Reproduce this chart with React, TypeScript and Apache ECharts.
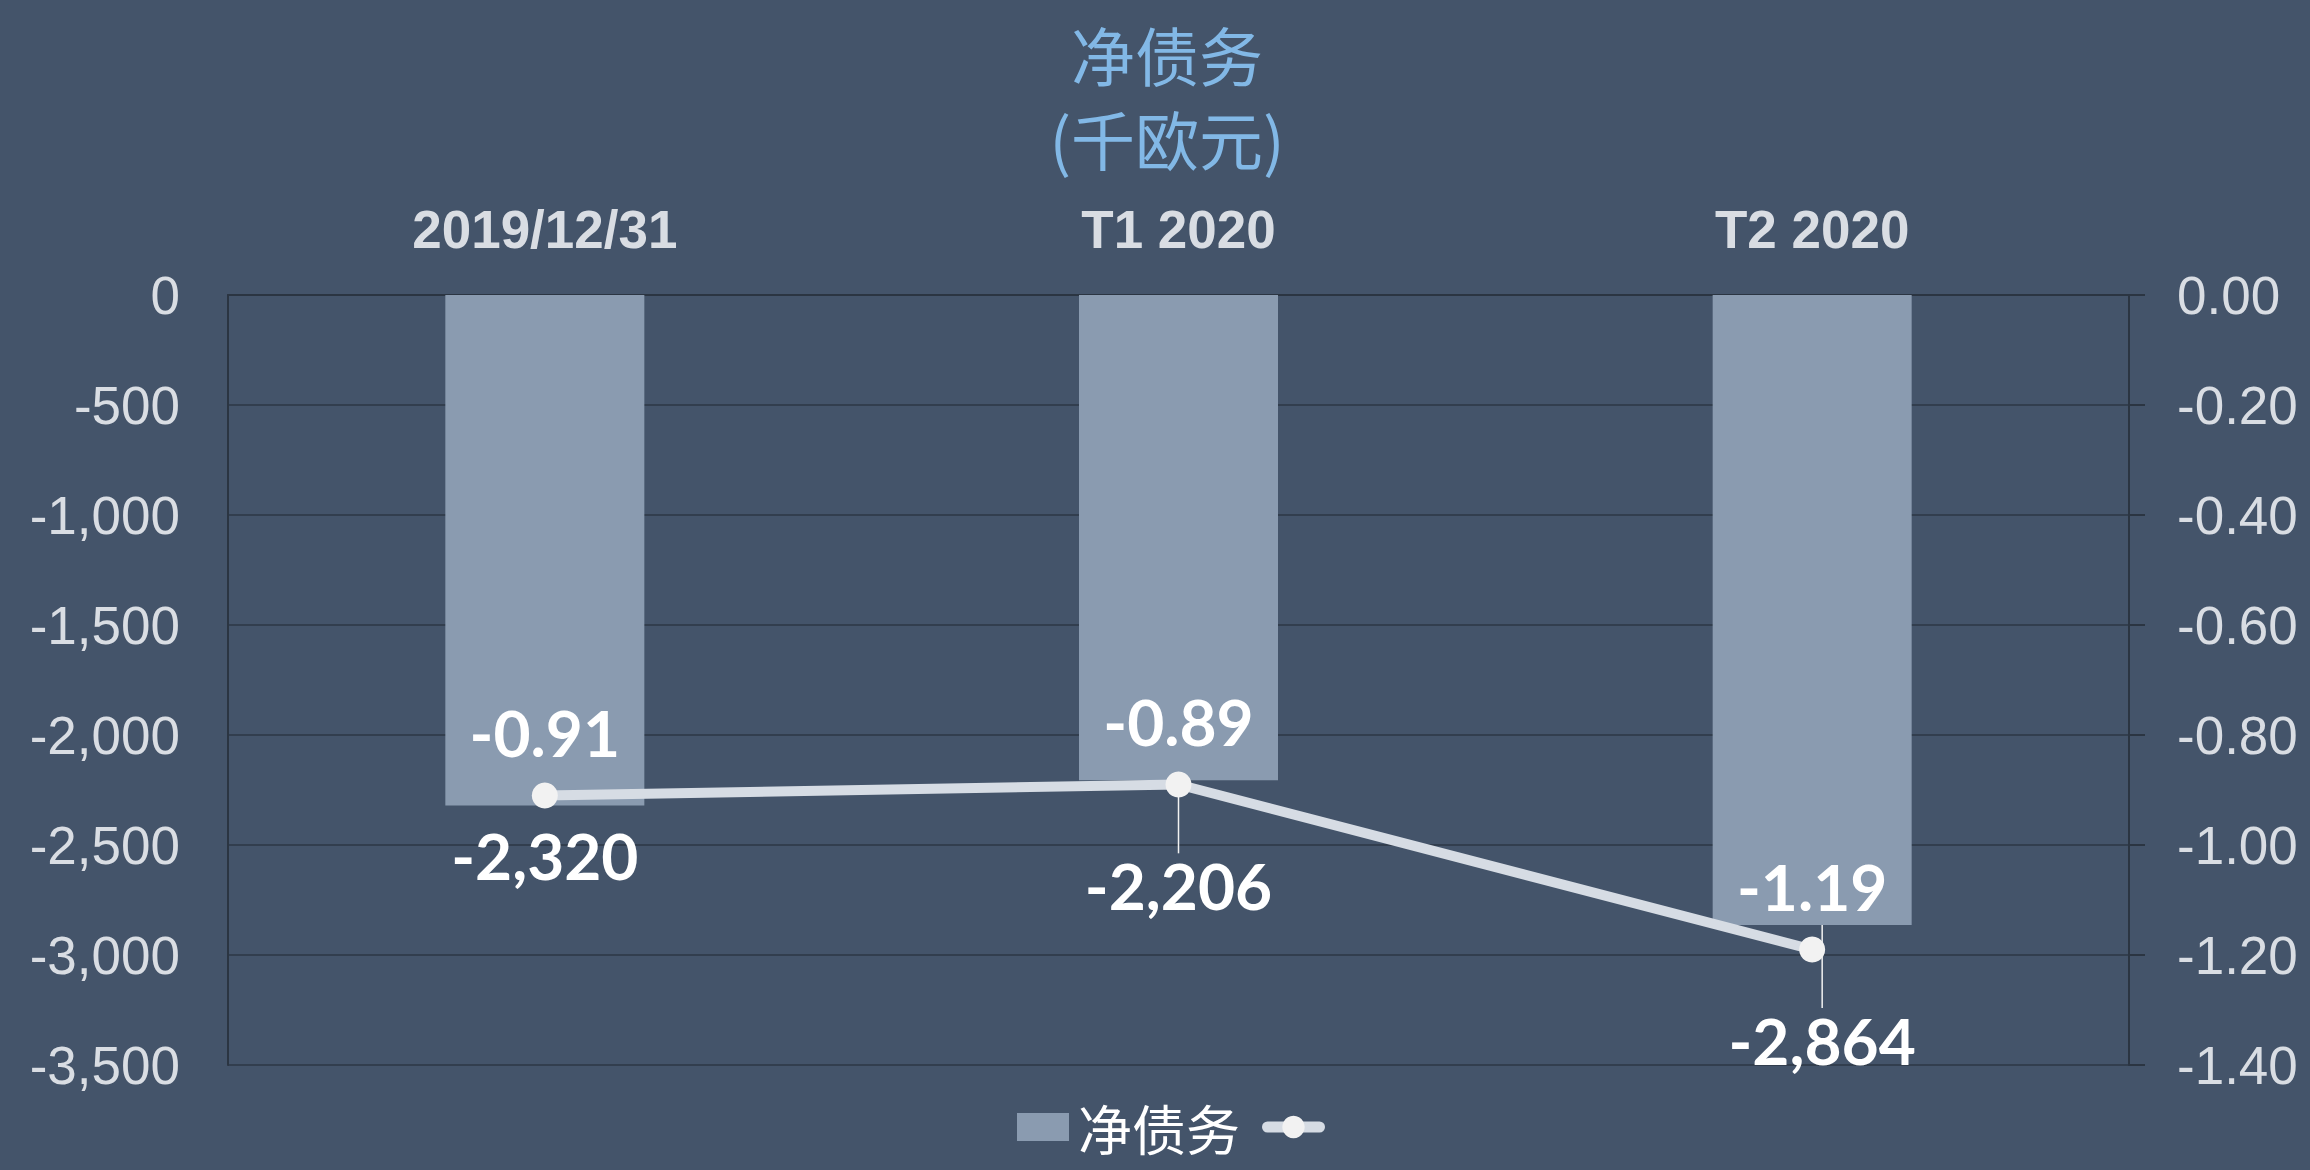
import React, { useEffect, useRef } from "react";
import * as echarts from "echarts";

const categories = ["2019/12/31", "T1 2020", "T2 2020"];
const netDebt = [-2320, -2206, -2864];
const ratio = [-0.91, -0.89, -1.19];
const leftTicks = { min: -3500, max: 0, interval: 500 };
const rightTicks = { min: -1.4, max: 0, interval: 0.2 };
const titleText = "净债务\n(千欧元)";
const barName = "净债务";
const lineName = " ";

const fmtThousands = (v: number) =>
  v.toLocaleString("en-US", { maximumFractionDigits: 0 });

export default function App() {
  const ref = useRef<HTMLDivElement>(null);
  useEffect(() => {
    document.body.style.margin = "0";
    const chart = echarts.init(ref.current!, null, { renderer: "svg" });
    const axisLabelColor = "#d9dde3";
    const labelMoves = [
      { dx: 0, dy: 0 },
      { dx: 0, dy: 55 },
      { dx: 10, dy: 65 },
    ];
    chart.setOption({
      animation: false,
      backgroundColor: "#44546a",
      title: {
        text: titleText,
        left: 1162,
        textAlign: "center",
        top: 6,
        textStyle: {
          color: "#82b8e6",
          fontSize: 64,
          lineHeight: 84,
          fontWeight: "normal",
          fontFamily: "Noto Sans CJK SC",
        },
      },
      legend: {
        top: 1095,
        left: 1012,
        itemWidth: 52,
        itemHeight: 28,
        itemGap: 22,
        textStyle: {
          color: "#ffffff",
          fontSize: 54,
          lineHeight: 52,
          fontFamily: "Noto Sans CJK SC",
          padding: [0, 0, 0, 4],
        },
        data: [
          { name: barName, icon: "rect" },
          {
            name: lineName,
            lineStyle: { width: 11, color: "#d6dce4", cap: "round" },
          },
        ],
      },
      grid: { left: 228, right: 181, top: 295, bottom: 105 },
      xAxis: {
        type: "category",
        position: "top",
        data: categories,
        axisLine: { show: true, lineStyle: { color: "#2b3542", width: 2 } },
        axisTick: { show: false },
        axisLabel: {
          color: axisLabelColor,
          fontSize: 53,
          fontWeight: "bold",
          fontFamily: "Liberation Sans, Arial, sans-serif",
          margin: 39,
        },
      },
      yAxis: [
        {
          type: "value",
          min: leftTicks.min,
          max: leftTicks.max,
          interval: leftTicks.interval,
          axisLine: { show: true, lineStyle: { color: "#2b3542", width: 2 } },
          axisTick: { show: false },
          splitLine: { show: true, lineStyle: { color: "#323e4e", width: 2 } },
          axisLabel: {
            color: axisLabelColor,
            fontSize: 53,
            fontFamily: "Liberation Sans, Arial, sans-serif",
            margin: 48,
            formatter: (v: number) => fmtThousands(v),
          },
        },
        {
          type: "value",
          position: "right",
          min: rightTicks.min,
          max: rightTicks.max,
          interval: rightTicks.interval,
          axisLine: { show: true, lineStyle: { color: "#2b3542", width: 2 } },
          axisTick: {
            show: true,
            inside: false,
            length: 16,
            lineStyle: { color: "#2b3542", width: 2 },
          },
          splitLine: { show: false },
          axisLabel: {
            color: axisLabelColor,
            fontSize: 53,
            fontFamily: "Liberation Sans, Arial, sans-serif",
            margin: 48,
            formatter: (v: number) => (Math.abs(v) < 1e-9 ? 0 : v).toFixed(2),
          },
        },
      ],
      series: [
        {
          name: barName,
          type: "bar",
          yAxisIndex: 0,
          barWidth: 199,
          itemStyle: { color: "#8a9bb0" },
          data: netDebt.map((v, i) => ({
            value: v,
            labelLine: { show: i > 0 },
          })),
          label: {
            show: true,
            position: "bottom",
            distance: 18,
            color: "#ffffff",
            fontSize: 64,
            fontWeight: "bold",
            fontFamily: "Lato, sans-serif",
            formatter: (p: any) => fmtThousands(p.value),
          },
          labelLine: {
            show: true,
            lineStyle: { color: "#f2f2f2", width: 1.5 },
          },
          labelLayout: (p: any) => ({
            dx: labelMoves[p.dataIndex].dx,
            dy: labelMoves[p.dataIndex].dy,
          }),
          z: 2,
        },
        {
          name: lineName,
          type: "line",
          yAxisIndex: 1,
          data: ratio,
          symbol: "circle",
          symbolSize: 26,
          lineStyle: { color: "#d6dce4", width: 10 },
          itemStyle: { color: "#f2f2f2" },
          label: {
            show: true,
            position: "top",
            distance: 18,
            color: "#ffffff",
            fontSize: 64,
            fontWeight: "bold",
            fontFamily: "Lato, sans-serif",
            formatter: (p: any) => p.value.toFixed(2),
          },
          z: 3,
        },
      ],
    });
    return () => chart.dispose();
  }, []);
  return <div ref={ref} style={{ width: 2310, height: 1170 }} />;
}
